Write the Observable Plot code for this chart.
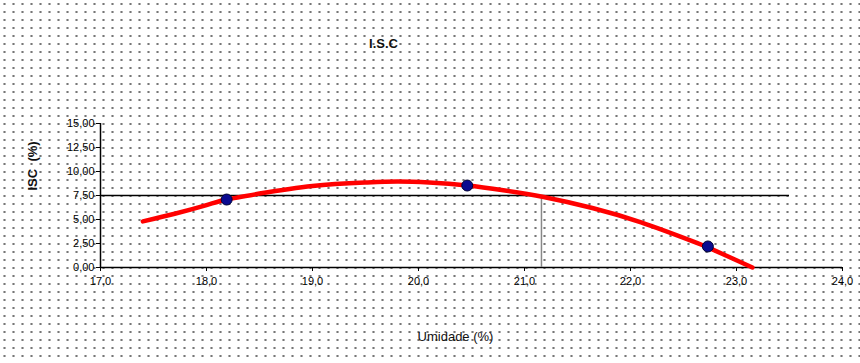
<!DOCTYPE html>
<html><head><meta charset="utf-8">
<script src="https://cdn.jsdelivr.net/npm/d3@7"></script>
<script src="https://cdn.jsdelivr.net/npm/@observablehq/plot@0.6"></script>
<style>
html,body{margin:0;padding:0;width:860px;height:363px;overflow:hidden;
background-color:#fff;
background-image:radial-gradient(circle, #777 0.9px, transparent 1.4px);
background-size:9px 8px;}
#chart svg{background:transparent;display:block}
</style></head><body><div id="chart"></div>
<script>
const title = "I.S.C";
const xLabel = "Umidade (%)";
const yLabel = "ISC  (%)";
const xTicks = [17,18,19,20,21,22,23,24];
const yTicks = [0,2.5,5,7.5,10,12.5,15];
// measured points
const umidade = [18.19, 20.46, 22.73];
const isc = [7.08, 8.54, 2.19];
// fitted curve
const curveX = [17.4, 17.7, 18.0, 18.19, 18.5, 19.0, 19.5, 19.8, 20.1, 20.46, 20.8, 21.18, 21.64, 22.1, 22.57, 22.73, 22.9, 23.15];
const curveY = [4.8, 5.6, 6.5, 7.08, 7.7, 8.5, 8.85, 8.95, 8.85, 8.54, 8.05, 7.35, 6.2, 4.7, 2.8, 2.1, 1.25, 0];
const refY = 7.5;
const refX = 21.16;
const lineEnd = 23.5;

const pts = umidade.map((x,i)=>({x, y:isc[i]}));
const curve = curveX.map((x,i)=>({x, y:curveY[i]}));
const fmt = v => v.toFixed(2).replace(".", ",");
const fmtX = v => v.toFixed(1).replace(".", ",");

const chart = Plot.plot({
  width: 860, height: 363,
  marginLeft: 100, marginRight: 18, marginTop: 123, marginBottom: 96,
  style: {fontFamily: "Liberation Sans, Arial, sans-serif", fontSize: "11px", background: "transparent", color: "#000"},
  x: {domain: [17, 24], ticks: xTicks, tickFormat: fmtX, label: null, tickSize: 4, tickPadding: 6},
  y: {domain: [0, 15], ticks: yTicks, tickFormat: fmt, label: null, tickSize: 4, tickPadding: 2},
  marks: [
    Plot.ruleX([17], {y1: 0, y2: 15, stroke: "#000", strokeWidth: 1.5}),
    Plot.ruleY([0], {x1: 17, x2: 24, stroke: "#000", strokeWidth: 1.5}),
    Plot.ruleY([refY], {x1: 17, x2: lineEnd, stroke: "#000", strokeWidth: 1.5}),
    Plot.ruleX([refX], {y1: 0, y2: refY, stroke: "#888", strokeWidth: 1.5}),
    Plot.line(curve, {x: "x", y: "y", stroke: "#ff0000", strokeWidth: 4.5, curve: "natural"}),
    Plot.dot(pts, {x: "x", y: "y", r: 5.5, fill: "#0a0a90", stroke: "#000033", strokeWidth: 1}),
    Plot.text([title], {frameAnchor: "top", dy: -85, dx: -88, fontSize: 13, fontWeight: "bold", fill: "#111"}),
    Plot.text([xLabel], {frameAnchor: "bottom", dy: 73, dx: -16, fontSize: 13, fill: "#111"}),
    Plot.text([yLabel], {frameAnchor: "left", dx: -68, dy: -5, rotate: -90, fontSize: 13, fontWeight: "bold", fill: "#111"})
  ]
});
document.getElementById("chart").appendChild(chart);
</script></body></html>
